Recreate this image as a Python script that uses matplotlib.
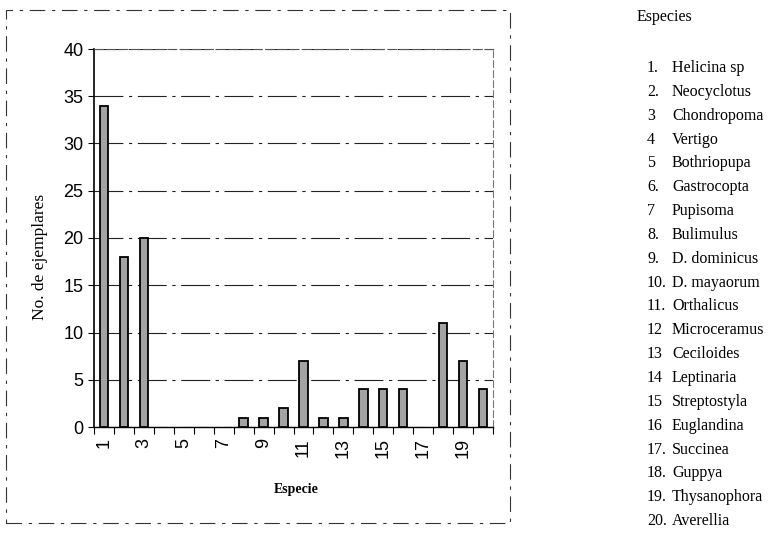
import numpy as np
import matplotlib
matplotlib.use("Agg")
from matplotlib import pyplot as plt
from matplotlib.patches import Rectangle

# data
especie = np.arange(1, 21)
ejemplares = [34, 18, 20, 0, 0, 0, 0, 1, 1, 2, 7, 1, 1, 4, 4, 4, 0, 11, 7, 4]
tick_labels = ["1", "3", "5", "7", "9", "11", "13", "15", "17", "19"]
nombres = ["Helicina sp", "Neocyclotus", "Chondropoma", "Vertigo", "Bothriopupa",
           "Gastrocopta", "Pupisoma", "Bulimulus", "D. dominicus", "D. mayaorum",
           "Orthalicus", "Microceramus", "Ceciloides", "Leptinaria", "Streptostyla",
           "Euglandina", "Succinea", "Guppya", "Thysanophora", "Averellia"]
numeros = ["1.", "2.", "3", "4", "5", "6.", "7", "8.", "9.", "10.",
           "11.", "12", "13", "14", "15", "16", "17.", "18.", "19.", "20."]

W, H = 778, 536
fig = plt.figure(figsize=(W / 100, H / 100), dpi=100)
ax = fig.add_axes([94 / W, 1 - 427 / H, 399 / W, 378 / H])

# no outline on empty categories, like the original
lw = [1.3 if v > 0 else 0 for v in ejemplares]
ax.bar(especie, ejemplares, width=0.42, color="#a3a3a3", edgecolor="black",
       linewidth=lw, zorder=3)

ax.set_xlim(0.5, 20.5)
ax.set_ylim(0, 40)
ax.set_yticks(np.arange(0, 41, 5))
ax.set_xticks(np.arange(1, 20, 2))
ax.set_xticklabels(tick_labels, rotation=90)
ax.set_xticks(np.arange(0.5, 21, 1), minor=True)
ax.tick_params(axis="x", which="major", length=0, pad=8)
ax.tick_params(axis="x", which="minor", length=5, width=0.8, direction="out")
ax.tick_params(axis="y", length=4, width=0.8, direction="out")
for lab in ax.get_xticklabels() + ax.get_yticklabels():
    lab.set_fontfamily("Liberation Sans")
    lab.set_fontsize(13)

ax.yaxis.grid(True, color="#222222", linewidth=0.8, linestyle=(0, (26, 5, 3, 5)))
ax.set_axisbelow(True)
ax.spines["left"].set_linewidth(1.2)
ax.spines["bottom"].set_linewidth(1.0)
ax.spines["top"].set_linestyle((0, (8, 3)))
ax.spines["top"].set_color("#555555")
ax.spines["right"].set_linestyle((0, (6, 3)))
ax.spines["right"].set_color("#777777")

fig.text(40 / W, 1 - 257 / H, "No. de ejemplares", rotation=90, ha="center",
         va="center", family="Liberation Serif", fontsize=12.5)
fig.text(296 / W, 1 - 490 / H, "Especie", ha="center", va="center",
         family="Liberation Serif", fontsize=10, fontweight="bold")

# dashed frame round the chart
fig.patches.append(Rectangle((6 / W, 1 - 523 / H), 504 / W, 513 / H,
                             transform=fig.transFigure, fill=False,
                             edgecolor="#333333", linewidth=0.8,
                             linestyle=(0, (14, 6, 3, 6))))

# species list on the right
fig.text(637 / W, 1 - 17 / H, "Especies", ha="left", va="center",
         family="Liberation Serif", fontsize=11.5)
for i, (n, s) in enumerate(zip(numeros, nombres)):
    y = 1 - (68 + i * 23.85) / H
    fig.text(647 / W, y, n, ha="left", va="center", family="Liberation Serif", fontsize=11.5)
    fig.text(672 / W, y, s, ha="left", va="center", family="Liberation Serif", fontsize=11.5)

fig.savefig("out.png", dpi=100)
